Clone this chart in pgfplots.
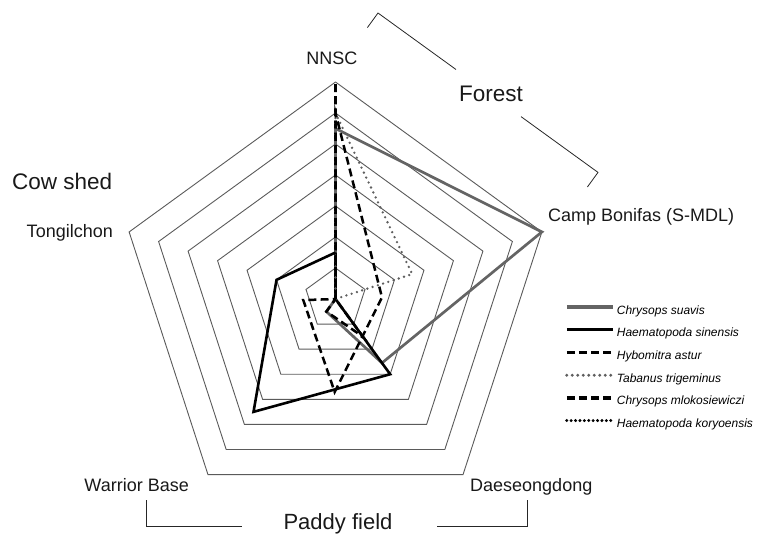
\documentclass[border=0pt]{standalone}
\usepackage{fontspec}
\setmainfont{Liberation Sans}
\usepackage{pgfplots}
\pgfplotsset{compat=1.18}
\definecolor{ringgray}{RGB}{90,90,90}
\definecolor{suavis}{RGB}{100,100,100}
\definecolor{trig}{RGB}{95,95,95}
\begin{document}
\begin{tikzpicture}
\path[use as bounding box] (0,0) rectangle (773bp,-536bp);
\begin{axis}[
  at={(335.5bp,-299bp)}, anchor=center,
  x=31bp, y=31bp,
  xmin=-7.5, xmax=7.5, ymin=-7.5, ymax=7.5,
  hide axis, clip=false,
  legend style={at={(axis cs:7.40,-0.19)}, anchor=north west, draw=none, fill=none,
    inner sep=0pt, font=\itshape\fontsize{12bp}{14bp}\selectfont, row sep=10.7bp,
    nodes={inner xsep=2.5bp, inner ysep=0pt, text height=9bp, text depth=3bp}},
  legend cell align=left,
  legend image code/.code={\path[draw, #1, line width=3.3bp] (0bp,4bp) -- (46bp,4bp);},
]
% rings
\addplot[ringgray, line width=0.9bp, line join=miter, data cs=polar, forget plot] coordinates {(90,1) (18,1) (-54,1) (-126,1) (162,1) (90,1)};
\addplot[ringgray, line width=0.9bp, line join=miter, data cs=polar, forget plot] coordinates {(90,2) (18,2) (-54,2) (-126,2) (162,2) (90,2)};
\addplot[ringgray, line width=0.9bp, line join=miter, data cs=polar, forget plot] coordinates {(90,3) (18,3) (-54,3) (-126,3) (162,3) (90,3)};
\addplot[ringgray, line width=0.9bp, line join=miter, data cs=polar, forget plot] coordinates {(90,4) (18,4) (-54,4) (-126,4) (162,4) (90,4)};
\addplot[ringgray, line width=0.9bp, line join=miter, data cs=polar, forget plot] coordinates {(90,5) (18,5) (-54,5) (-126,5) (162,5) (90,5)};
\addplot[ringgray, line width=0.9bp, line join=miter, data cs=polar, forget plot] coordinates {(90,6) (18,6) (-54,6) (-126,6) (162,6) (90,6)};
\addplot[ringgray, line width=0.9bp, line join=miter, data cs=polar, forget plot] coordinates {(90,7) (18,7) (-54,7) (-126,7) (162,7) (90,7)};
% series
\addplot[color=suavis, line width=2.7bp, line join=miter, data cs=polar] coordinates {(90,5.5) (18,7) (-54,2.55) (-126,0.5) (162,0) (90,5.5)};
\addlegendentry{Chrysops suavis}
\addplot[color=black, line width=2.6bp, line join=miter, data cs=polar] coordinates {(90,1.5) (18,0) (-54,3) (-126,4.5) (162,2) (90,1.5)};
\addlegendentry{Haematopoda sinensis}
\addplot[color=black, line width=2.6bp, dash pattern=on 7.9bp off 4.27bp, data cs=polar] coordinates {(162,0) (90,7) (18,0) (-54,1.5) (-126,0.5) (162,0)};
\addlegendentry{Hybomitra astur}
\addplot[color=trig, line width=2.6bp, line cap=round, dash pattern=on 0bp off 5.5bp, data cs=polar] coordinates {(90,6) (18,2.6) (-54,0) (-126,0) (162,0) (90,6)};
\addlegendentry{Tabanus trigeminus}
\addplot[color=black, line width=2.5bp, dash pattern=on 7.9bp off 4.27bp, data cs=polar] coordinates {(162,0) (90,6) (2,1.5) (-90.5,3) (182,1.04) (162,0)};
\addlegendentry{Chrysops mlokosiewiczi}
\addplot[color=black, line width=2.2bp, line cap=round, dash pattern=on 0bp off 4.4bp, data cs=polar] coordinates {(90,0) (18,0) (-54,0) (-126,0) (162,0) (90,0)};
\addlegendentry{Haematopoda koryoensis}
\end{axis}
\begin{scope}[x=1bp, y=-1bp, line width=0.8bp, black!85]
\draw (367.4,27.6) -- (378,13) -- (456,69.5);
\draw (521,116.6) -- (598,172.4) -- (587.4,187);
\draw (146,500) -- (146,526) -- (242,526);
\draw (437,526) -- (527,526) -- (527,500);
\end{scope}
\begin{scope}[x=1bp, y=-1bp, every node/.style={inner sep=0pt, text=black!90}]
\node[anchor=base, font=\fontsize{18bp}{20bp}\selectfont] at (332,64) {NNSC};
\node[anchor=base west, font=\fontsize{18bp}{20bp}\selectfont] at (548,221) {Camp Bonifas (S-MDL)};
\node[anchor=base east, font=\fontsize{18bp}{20bp}\selectfont] at (113,237) {Tongilchon};
\node[anchor=base east, font=\fontsize{18bp}{20bp}\selectfont] at (189,491) {Warrior Base};
\node[anchor=base west, font=\fontsize{18bp}{20bp}\selectfont] at (470,491) {Daeseongdong};
\node[anchor=base, font=\fontsize{22.5bp}{25bp}\selectfont] at (491,101) {Forest};
\node[anchor=base west, font=\fontsize{22.5bp}{25bp}\selectfont] at (12,189) {Cow shed};
\node[anchor=base, font=\fontsize{22bp}{25bp}\selectfont] at (338,529) {Paddy field};
\end{scope}
\end{tikzpicture}
\end{document}
